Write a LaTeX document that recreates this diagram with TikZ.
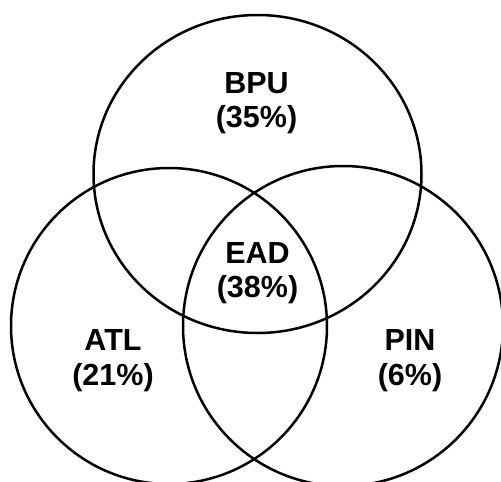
\documentclass[tikz,border=0pt]{standalone}
\usepackage{fontspec}
\setmainfont{Liberation Sans}
\usepackage{tikz}

\begin{document}
\begin{tikzpicture}[
  x=1pt,y=-1pt,
  every node/.style={font=\bfseries\fontsize{30.5}{34.5}\selectfont,align=center,inner sep=0pt},
  ring/.style={draw=black,line width=2.5pt},
  lbl/.style={anchor=north}
]
\useasboundingbox (0,0) rectangle (501,482);
\clip (0,0) rectangle (501,482);
% the three sets
\draw[ring] (257.5,174) ellipse [x radius=164, y radius=159];
\draw[ring] (169,326) circle [radius=158];
\draw[ring] (343,326) circle [radius=160];
% labels
\node[lbl] (bpu) at (256.5,72) {BPU\\(35\%)};
\node[lbl] (ead) at (257.5,242) {EAD\\(38\%)};
\node[lbl] (atl) at (113,329.5) {ATL\\(21\%)};
\node[lbl] (pin) at (410,329.5) {PIN\\(6\%)};
\end{tikzpicture}
\end{document}
